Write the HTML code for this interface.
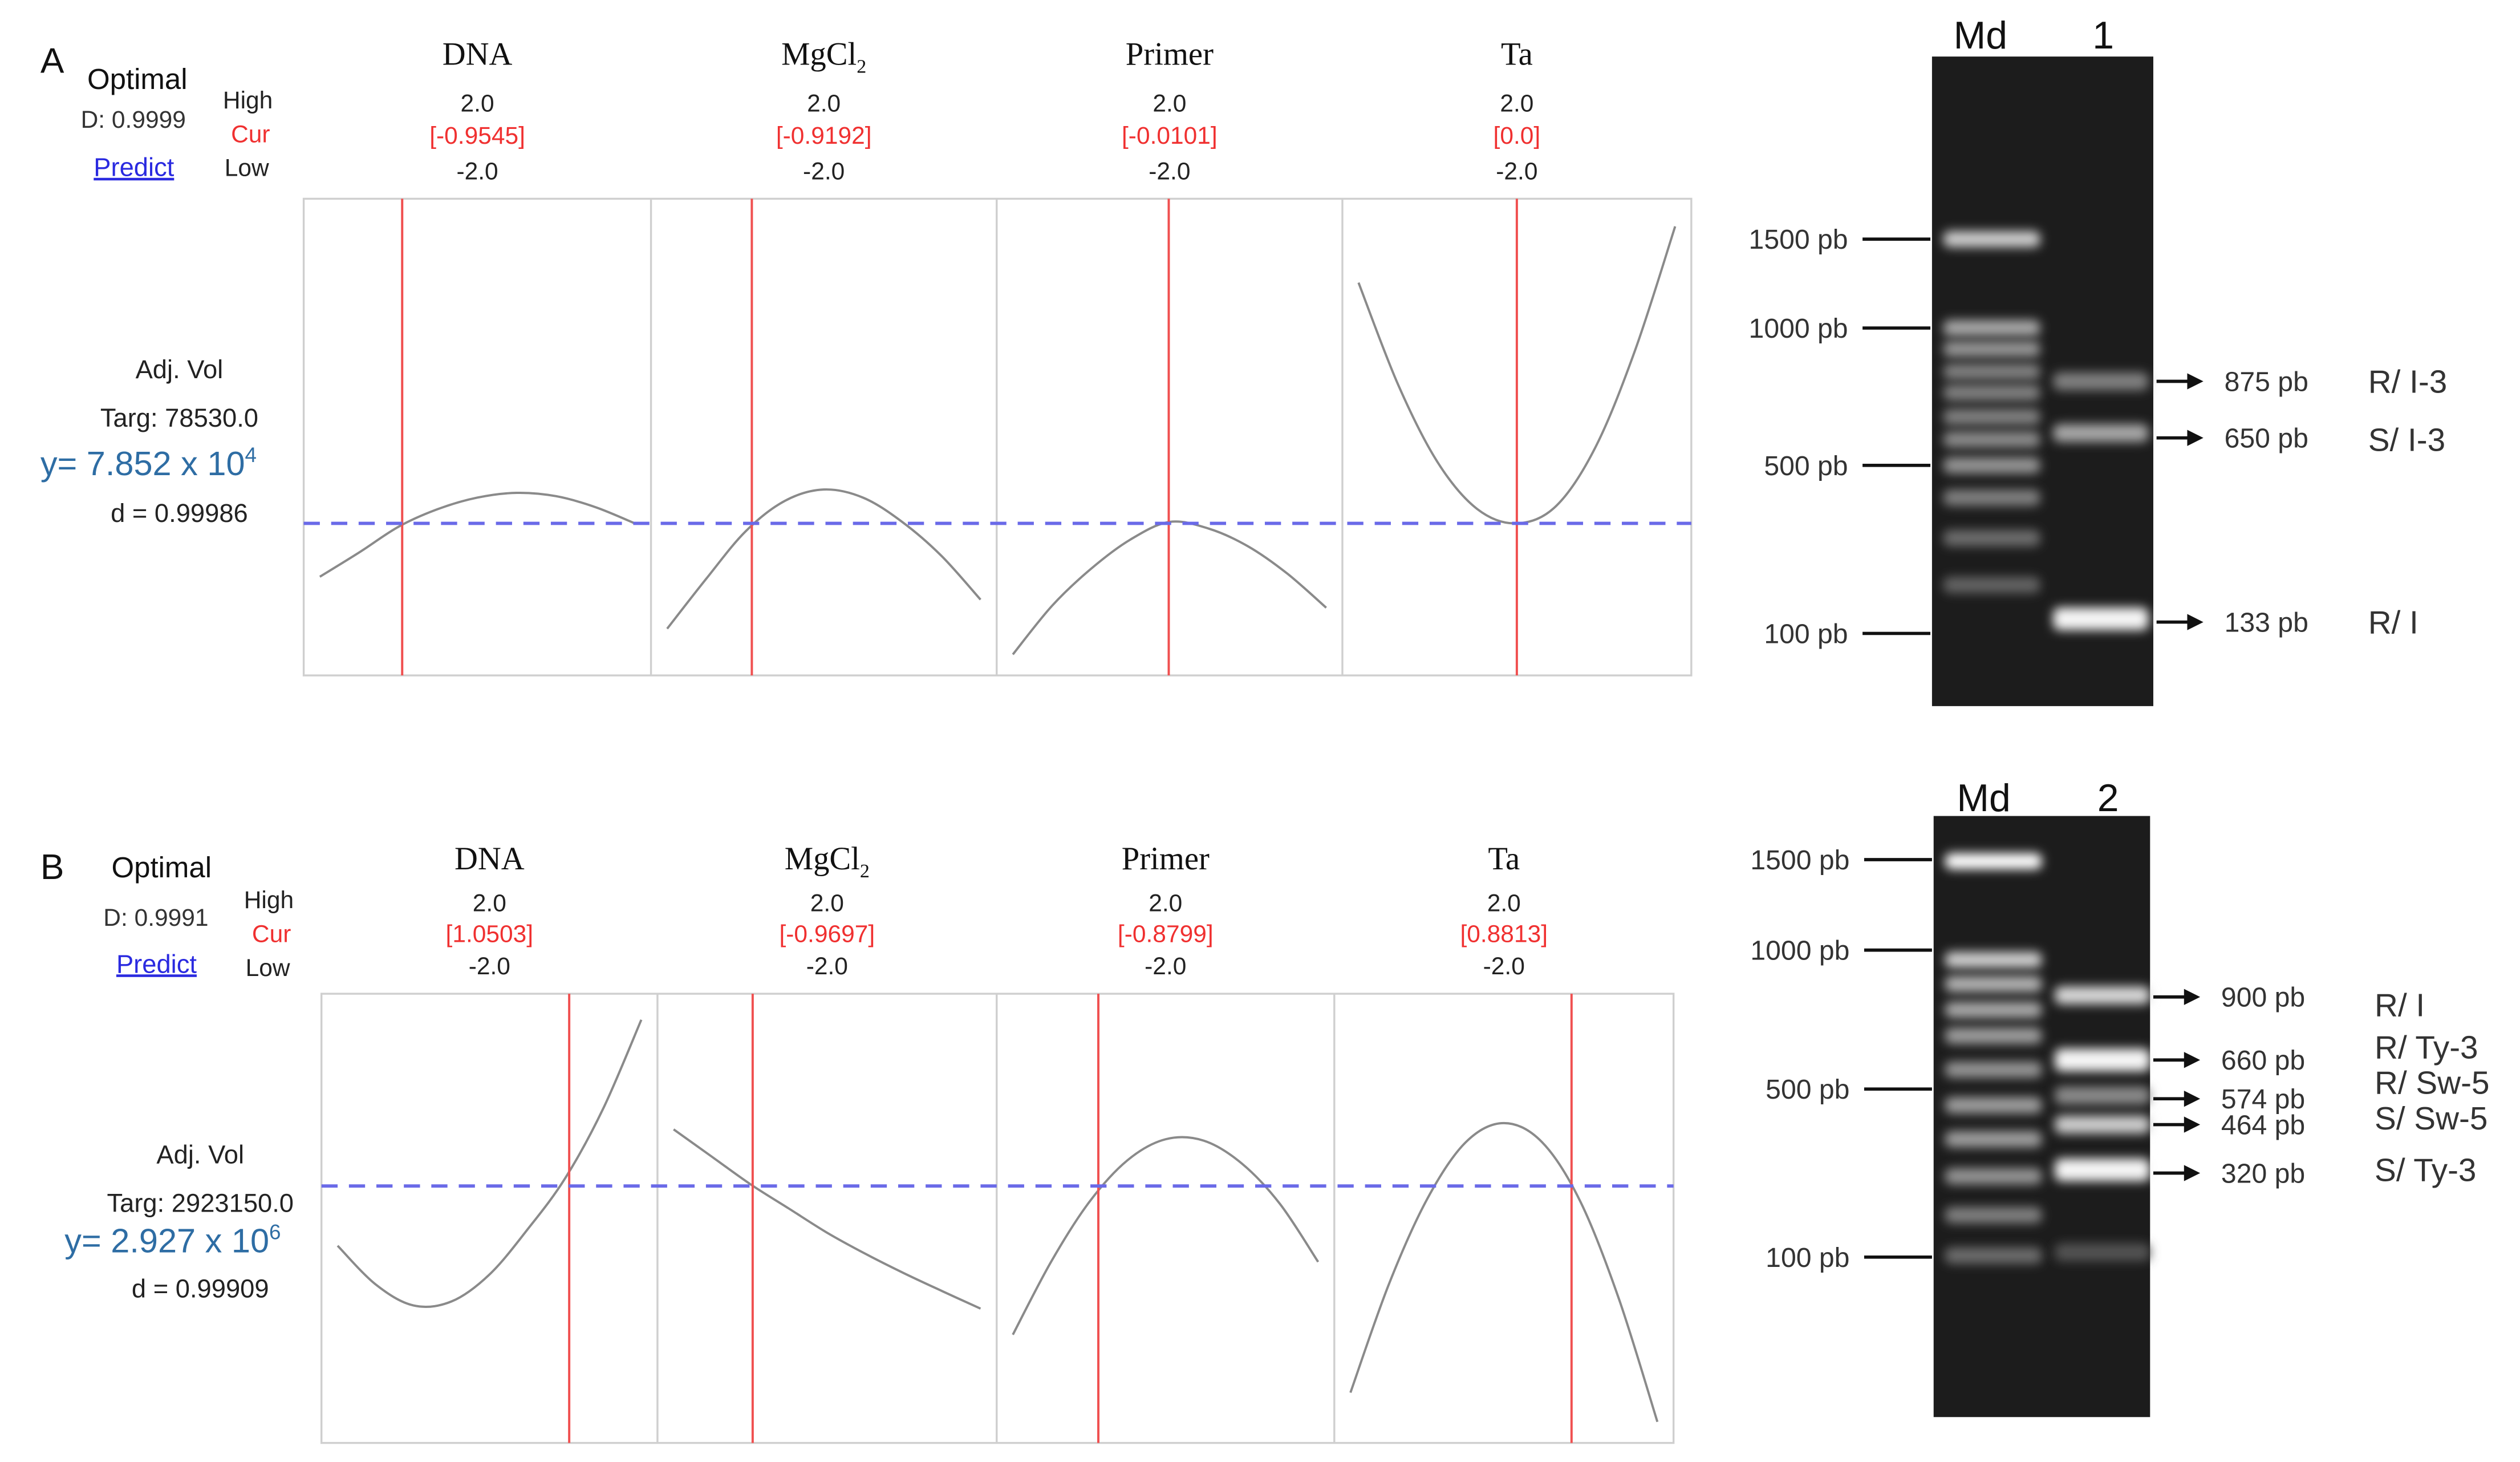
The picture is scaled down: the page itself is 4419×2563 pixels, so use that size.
<!DOCTYPE html>
<html><head><meta charset="utf-8"><style>
html,body{margin:0;padding:0;background:#fff}
svg{display:block}
text{font-family:"Liberation Sans",sans-serif}
.serif{font-family:"Liberation Serif",serif}
</style></head><body>
<svg id="fig" width="4419" height="2563" viewBox="0 0 1560 904.8" preserveAspectRatio="none" xmlns="http://www.w3.org/2000/svg">
<defs>
<filter id="blur" x="-30%" y="-300%" width="160%" height="700%"><feGaussianBlur stdDeviation="3.2"/></filter>
</defs>
<g id="root"></g>
</svg>
<script>
// ---- data ----
const factors = ["DNA","MgCl2","Primer","Ta"];
const xs = [-2,-1.5,-1,-0.5,0,0.5,1,1.5,2];
const aDNA = [20.7,25.8,31.2,34.9,37.3,38.3,37.6,35.3,31.9];
const aMg = [9.8,20.3,30.2,36.6,39.0,37.3,32.2,25.1,15.9];
const aPrimer = [4.4,14.6,22.4,28.5,32.2,30.8,27.1,21.4,14.2];
const aTa = [82.4,61.0,44.7,34.9,31.9,35.6,48.1,68.5,94.2];
const aCur = [-0.9545,-0.9192,-0.0101,0.0];
const aCurLabels = ["[-0.9545]","[-0.9192]","[-0.0101]","[0.0]"];
const aTarget = 31.9;
const bDNA = [43.9,35.3,30.6,31.5,37.5,47.5,59.0,74.5,94.2];
const bMg = [69.8,63.7,57.6,52.2,46.8,42.1,37.8,33.8,29.9];
const bPrimer = [24.1,40.3,53.6,62.9,67.6,67.3,62.2,53.2,40.3];
const bTa = [11.2,35.3,54.3,66.9,71.2,66.9,53.6,32.0,4.7];
const bCur = [1.0503,-0.9697,-0.8799,0.8813];
const bCurLabels = ["[1.0503]","[-0.9697]","[-0.8799]","[0.8813]"];
const bTarget = 57.2;
// gel data
const gelAMarkers = ["1500 pb","1000 pb","500 pb","100 pb"];
const gelAMarkerY = [148,203,288,392];
const gelALadder = [148,203,216,230,243,258,272,288,308,333,362];
const gelALadderI = [0.75,0.55,0.45,0.35,0.35,0.35,0.4,0.45,0.35,0.25,0.2];
const gelASample = [236,268,383];
const gelASampleI = [0.35,0.55,0.95];
const gelASizes = ["875 pb","650 pb","133 pb"];
const gelAAlleles = ["R/ I-3","S/ I-3","R/ I"];
const gelBMarkers = ["1500 pb","1000 pb","500 pb","100 pb"];
const gelBMarkerY = [532,588,674,778];
const gelBLadder = [533,594,609,625,641,662,684,705,728,752,777];
const gelBLadderI = [1.0,0.75,0.6,0.55,0.5,0.45,0.5,0.5,0.45,0.35,0.25];
const gelBSample = [616,656,678,696,724,775];
const gelBSampleI = [0.8,0.95,0.4,0.75,0.95,0.12];
const gelBSizes = ["900 pb","660 pb","574 pb","464 pb","320 pb"];
const gelBSizeY = [617,656,680,696,726];
const gelBAlleles = ["R/ I","R/ Ty-3","R/ Sw-5","S/ Sw-5","S/ Ty-3"];
const gelBAlleleY = [622,648,670,692,724];

const NS="http://www.w3.org/2000/svg";
const root=document.getElementById('root');
function mk(tag,attrs,parent){const e=document.createElementNS(NS,tag);for(const k in attrs)e.setAttribute(k,attrs[k]);(parent||root).appendChild(e);return e;}
function txt(s,x,y,size,fill,anchor,parent,cls){const t=mk('text',{x:x,y:y,'font-size':size,fill:fill||'#222','text-anchor':anchor||'start'},parent);if(cls)t.setAttribute('class',cls);t.textContent=s;return t;}

function panel(cfg){
  const g=mk('g',{});
  
  
  mk('rect',{x:cfg.x0,y:cfg.y0,width:cfg.x1-cfg.x0,height:cfg.y1-cfg.y0,fill:'#fff',stroke:'#cfcfcf','stroke-width':1.2},g);
  const yS=v=>cfg.y1-(v/100)*(cfg.y1-cfg.y0);
  const ty=yS(cfg.target);
  for(let i=0;i<4;i++){
    const sx=cfg.divs[i], ex=cfg.divs[i+1];
    if(i>0){const d=mk('line',{x1:sx,y1:cfg.y0,x2:sx,y2:cfg.y1,stroke:'#cfcfcf','stroke-width':1.2},g);}
    const a=sx+10, b=ex-10;
    const xS=v=>a+(v+2)/4*(b-a);
    const pts=xs.map((x,j)=>{return [xS(x),yS(cfg.series[i][j])];});
    let dstr='M'+pts[0][0]+','+pts[0][1];
    for(let j=0;j<pts.length-1;j++){
      const p0=pts[Math.max(0,j-1)],p1=pts[j],p2=pts[j+1],p3=pts[Math.min(pts.length-1,j+2)];
      const c1=[p1[0]+(p2[0]-p0[0])/6,p1[1]+(p2[1]-p0[1])/6];
      const c2=[p2[0]-(p3[0]-p1[0])/6,p2[1]-(p3[1]-p1[1])/6];
      dstr+=' C'+c1[0]+','+c1[1]+' '+c2[0]+','+c2[1]+' '+p2[0]+','+p2[1];
    }
    const c=mk('path',{d:dstr,fill:'none',stroke:'#8a8a8a','stroke-width':1.4},g);
    
    
    const cx=xS(cfg.cur[i]);
    const r=mk('line',{x1:cx,y1:cfg.y0,x2:cx,y2:cfg.y1,stroke:'#f05050','stroke-width':1.4},g);
    
    
    const hc=(sx+ex)/2;
    const h=txt('',hc,cfg.hy,20,'#111','middle',g,'serif');
    if(factors[i]==='MgCl2'){h.textContent='MgCl';const s=mk('tspan',{'font-size':12,dy:5},h);s.textContent='2';}else h.textContent=factors[i];
    
    
    const hi=txt('2.0',hc,cfg.vy[0],15,'#222','middle',g);
    const cu=txt(cfg.curLabels[i],hc,cfg.vy[1],15,'#f03030','middle',g);
    const lo=txt('-2.0',hc,cfg.vy[2],15,'#222','middle',g);
  }
  const t=mk('line',{x1:cfg.x0,y1:ty,x2:cfg.x1,y2:ty,stroke:'#6a6ae8','stroke-width':2,'stroke-dasharray':'10,7'},g);
  
  
}

panel({name:'panel-a-optimization',x0:188,x1:1047,y0:123,y1:418,divs:[188,403,617,831,1047],series:[aDNA,aMg,aPrimer,aTa],cur:aCur,curLabels:aCurLabels,target:aTarget,hy:40,vy:[69,89,111]});
panel({name:'panel-b-optimization',x0:199,x1:1036,y0:615,y1:893,divs:[199,407,617,826,1036],series:[bDNA,bMg,bPrimer,bTa],cur:bCur,curLabels:bCurLabels,target:bTarget,hy:538,vy:[564,583,603]});

function side(o){
  const g=mk('g',{});
  
  
  let e;
  e=txt(o.letter,o.lx,o.ly,22,'#111','start',g);
  e=txt('Optimal',o.ox,o.oy,18,'#111','start',g);
  e=txt(o.D,o.dx,o.dy,15,'#333','start',g);
  e=txt('Predict',o.px,o.py,16,'#2a2ae0','start',g);e.setAttribute('text-decoration','underline');
  e=txt('High',o.hx,o.hy,15,'#222','start',g);
  e=txt('Cur',o.hx+5,o.hy+21,15,'#f03030','start',g);
  e=txt('Low',o.hx+1,o.hy+42,15,'#222','start',g);
  e=txt('Adj. Vol',o.cx,o.ay,16,'#222','middle',g);
  e=txt(o.targ,o.cx,o.ay+30,16,'#222','middle',g);
  e=txt('',o.yx,o.yy,21,'#2e6da4','start',g);e.textContent=o.yv;const sp=mk('tspan',{'font-size':13,dy:-8},e);sp.textContent=o.exp;
  
  e=txt(o.d,o.cx,o.ddy,16,'#222','middle',g);
}
side({name:'panel-a-summary',letter:'A',lx:25,ly:45,ox:54,oy:55,D:'D: 0.9999',dx:50,dy:79,px:58,py:109,hx:138,hy:67,cx:111,ay:234,targ:'Targ: 78530.0',yx:25,yy:294,yv:'y= 7.852 x 10',exp:'4',d:'d = 0.99986',ddy:323});
side({name:'panel-b-summary',letter:'B',lx:25,ly:544,ox:69,oy:543,D:'D: 0.9991',dx:64,dy:573,px:72,py:602,hx:151,hy:562,cx:124,ay:720,targ:'Targ: 2923150.0',yx:40,yy:775,yv:'y= 2.927 x 10',exp:'6',d:'d = 0.99909',ddy:803});

function gel(o){
  const g=mk('g',{});
  
  
  const r=mk('rect',{x:o.x0,y:o.y0,width:o.x1-o.x0,height:o.y1-o.y0,fill:'#1c1c1c'},g);
  
  let e=txt('Md',o.mdx,o.ty,24,'#111','middle',g);
  e=txt(o.lane,o.lnx,o.ty,24,'#111','middle',g);
  o.ladder.forEach((y,i)=>{const v=Math.round(60+195*o.ladderI[i]);
    const b=mk('rect',{x:o.x0+7,y:y-5,width:60,height:10,rx:4,fill:'rgb('+v+','+v+','+v+')',filter:'url(#blur)'},g);
    });
  o.sample.forEach((y,i)=>{const v=Math.round(60+195*o.sampleI[i]);const h=o.sampleI[i]>0.9?14:11;
    const b=mk('rect',{x:o.x0+75,y:y-h/2,width:59,height:h,rx:4,fill:'rgb('+v+','+v+','+v+')',filter:'url(#blur)'},g);
    });
  o.markers.forEach((m,i)=>{const y=o.markerY[i];
    const l=mk('line',{x1:o.x0-43,y1:y,x2:o.x0-1,y2:y,stroke:'#111','stroke-width':2},g);
    
    const t=txt(m,o.x0-52,y+6,17,'#333','end',g);});
  o.sizes.forEach((s,i)=>{const y=o.sizeY[i];
    const l=mk('line',{x1:o.x1+2,y1:y,x2:o.x1+22,y2:y,stroke:'#111','stroke-width':2},g);
    
    const p=mk('path',{d:'M'+(o.x1+21)+','+(y-5)+' L'+(o.x1+31)+','+y+' L'+(o.x1+21)+','+(y+5)+'Z',fill:'#111'},g);
    
    const t=txt(s,o.x1+44,y+6,17,'#333','start',g);});
  o.alleles.forEach((s,i)=>{const t=txt(s,o.alx,o.alleleY[i]+7,20,'#333','start',g);});
}
gel({name:'gel-1',x0:1196,x1:1333,y0:35,y1:437,mdx:1226,lnx:1302,ty:30,lane:'1',ladder:gelALadder,ladderI:gelALadderI,sample:gelASample,sampleI:gelASampleI,markers:gelAMarkers,markerY:gelAMarkerY,sizes:gelASizes,sizeY:[236,271,385],alleles:gelAAlleles,alleleY:[236,272,385],alx:1466});
gel({name:'gel-2',x0:1197,x1:1331,y0:505,y1:877,mdx:1228,lnx:1305,ty:502,lane:'2',ladder:gelBLadder,ladderI:gelBLadderI,sample:gelBSample,sampleI:gelBSampleI,markers:gelBMarkers,markerY:gelBMarkerY,sizes:gelBSizes,sizeY:gelBSizeY,alleles:gelBAlleles,alleleY:gelBAlleleY,alx:1470});
</script>
</body></html>
